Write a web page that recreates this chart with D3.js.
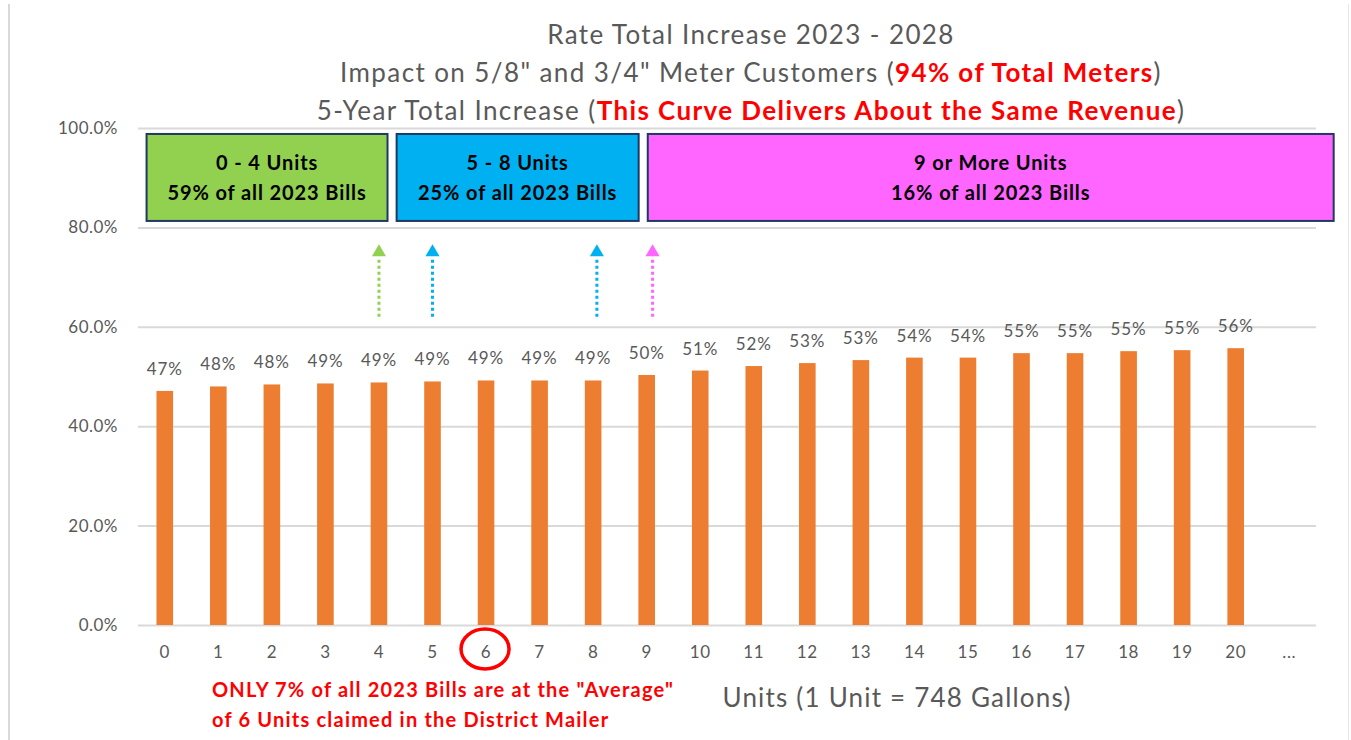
<!DOCTYPE html>
<html lang="en">
<head>
    <meta charset="utf-8">
    <title>Rate Total Increase 2023 - 2028</title>
    <script src="https://d3js.org/d3.v7.min.js"></script>
    <style type="text/css">
        body { margin: 0; background: #fff; }
        text { font-family: Lato, "Open Sans", sans-serif; }
    </style>
</head>
<body>
<script type="text/javascript">

    // data
    var units = ["0", "1", "2", "3", "4", "5", "6", "7", "8", "9", "10",
        "11", "12", "13", "14", "15", "16", "17", "18", "19", "20", "..."];
    var increase = [0.471, 0.480, 0.484, 0.486, 0.488, 0.490, 0.492, 0.492, 0.492, 0.503,
        0.512, 0.521, 0.527, 0.533, 0.538, 0.538, 0.547, 0.547, 0.551, 0.553, 0.557];
    var yTicks = [0, 0.2, 0.4, 0.6, 0.8, 1.0];

    // bands of bills (start unit, end unit, label lines)
    var bandNames = ["0 - 4 Units", "5 - 8 Units", "9 or More Units"];
    var bandShares = ["59% of all 2023 Bills", "25% of all 2023 Bills", "16% of all 2023 Bills"];
    var bandFrom = [-0.34, 4.33, 9.02];
    var bandTo = [4.16, 8.85, 21.83];
    var bandColors = ["#92d050", "#00b0f0", "#ff66ff"];

    // arrows under the boxes (unit position)
    var arrowAt = [4, 5, 8.07, 9.11];
    var arrowColors = ["#92d050", "#00b0f0", "#00b0f0", "#ff66ff"];

    var w = 1351, h = 740;
    var mLeft = 138, mRight = 1316, mTop = 128, mBottom = 625;

    var svg = d3.select("body").append("svg")
        .attr("width", w)
        .attr("height", h);

    // outer frame lines
    svg.append("line").attr("x1", 9).attr("x2", 9).attr("y1", 4).attr("y2", h)
        .attr("stroke", "#d9d9d9").attr("stroke-width", 2);
    svg.append("line").attr("x1", 1348.5).attr("x2", 1348.5).attr("y1", 4).attr("y2", h)
        .attr("stroke", "#e6e6e6").attr("stroke-width", 1);

    var x = d3.scaleBand()
        .domain(units)
        .range([mLeft, mRight])
        .paddingInner(0.69)
        .paddingOuter(0.345);

    var y = d3.scaleLinear()
        .domain([0, 1])
        .range([mBottom, mTop]);

    var step = x.step();
    var uPos = function (u) { return x("0") + x.bandwidth() / 2 + u * step; };

    // gridlines + y labels
    var yAxis = d3.axisLeft(y)
        .tickValues(yTicks)
        .tickSize(-(mRight - mLeft))
        .tickPadding(20)
        .tickFormat(d3.format(".1%"));

    var gy = svg.append("g")
        .attr("transform", "translate(" + mLeft + ",0)")
        .call(yAxis);
    gy.select(".domain").remove();
    gy.selectAll(".tick line").attr("stroke", "#d9d9d9").attr("stroke-width", 2);
    gy.selectAll(".tick text")
        .attr("fill", "#595959")
        .attr("font-size", "17px")
        .attr("letter-spacing", "0.5px")
        .style("font-family", "Lato, sans-serif");

    // x labels
    var xAxis = d3.axisBottom(x).tickSize(0).tickPadding(21);
    var gx = svg.append("g")
        .attr("transform", "translate(0," + mBottom + ")")
        .call(xAxis);
    gx.select(".domain").remove();
    gx.selectAll(".tick text")
        .attr("fill", "#595959")
        .attr("font-size", "17px")
        .attr("letter-spacing", "0.6px")
        .style("font-family", "Lato, sans-serif");

    // bars
    svg.selectAll("rect.bar")
        .data(increase)
        .enter()
        .append("rect")
        .attr("class", "bar")
        .attr("x", function (d, i) { return x(units[i]); })
        .attr("y", function (d) { return y(d); })
        .attr("width", x.bandwidth())
        .attr("height", function (d) { return y(0) - y(d); })
        .attr("fill", "#ed7d31");

    // value labels
    svg.selectAll("text.val")
        .data(increase)
        .enter()
        .append("text")
        .attr("class", "val")
        .attr("x", function (d, i) { return x(units[i]) + x.bandwidth() / 2; })
        .attr("y", function (d) { return y(d) - 16; })
        .attr("text-anchor", "middle")
        .attr("font-size", "17px")
        .attr("letter-spacing", "0.9px")
        .attr("fill", "#595959")
        .text(function (d) { return d3.format(".0%")(d); });

    // title
    var title = svg.append("text")
        .attr("text-anchor", "middle")
        .attr("fill", "#595959")
        .attr("font-size", "26px")
        .attr("letter-spacing", "1.4px");
    title.append("tspan").attr("x", 751).attr("y", 44).text("Rate Total Increase 2023 - 2028");
    var t2 = title.append("tspan").attr("x", 751).attr("y", 82);
    t2.append("tspan").text("Impact on 5/8\" and 3/4\" Meter Customers (");
    t2.append("tspan").attr("fill", "#ff0000").attr("font-weight", "bold").text("94% of Total Meters");
    t2.append("tspan").text(")");
    var t3 = title.append("tspan").attr("x", 751).attr("y", 120);
    t3.append("tspan").text("5-Year Total Increase (");
    t3.append("tspan").attr("fill", "#ff0000").attr("font-weight", "bold").text("This Curve Delivers About the Same Revenue");
    t3.append("tspan").text(")");

    // band boxes
    var boxes = svg.selectAll("g.box")
        .data(bandNames)
        .enter()
        .append("g")
        .attr("class", "box");

    boxes.append("rect")
        .attr("x", function (d, i) { return uPos(bandFrom[i]); })
        .attr("y", y(0.988))
        .attr("width", function (d, i) { return uPos(bandTo[i]) - uPos(bandFrom[i]); })
        .attr("height", y(0.813) - y(0.988))
        .attr("fill", function (d, i) { return bandColors[i]; })
        .attr("stroke", "#1f3864")
        .attr("stroke-width", 2);

    boxes.append("text")
        .attr("x", function (d, i) { return (uPos(bandFrom[i]) + uPos(bandTo[i])) / 2; })
        .attr("y", 170)
        .attr("text-anchor", "middle")
        .attr("font-size", "20px")
        .attr("letter-spacing", "0.9px")
        .attr("font-weight", "bold")
        .attr("fill", "#000")
        .text(function (d) { return d; });

    boxes.append("text")
        .attr("x", function (d, i) { return (uPos(bandFrom[i]) + uPos(bandTo[i])) / 2; })
        .attr("y", 200)
        .attr("text-anchor", "middle")
        .attr("font-size", "20px")
        .attr("letter-spacing", "0.9px")
        .attr("font-weight", "bold")
        .attr("fill", "#000")
        .text(function (d, i) { return bandShares[i]; });

    // dotted arrows
    var arrows = svg.selectAll("g.arrow")
        .data(arrowAt)
        .enter()
        .append("g")
        .attr("class", "arrow")
        .attr("transform", function (d) { return "translate(" + uPos(d) + ",0)"; });

    arrows.append("line")
        .attr("x1", 0).attr("x2", 0)
        .attr("y1", y(0.62)).attr("y2", y(0.735))
        .attr("stroke", function (d, i) { return arrowColors[i]; })
        .attr("stroke-width", 3)
        .attr("stroke-dasharray", "3,3");

    arrows.append("path")
        .attr("d", function () {
            var t = y(0.766), b = y(0.742);
            return "M0," + t + "L7,"+ b + "L-7," + b + "Z";
        })
        .attr("fill", function (d, i) { return arrowColors[i]; });

    // red circle round the "average" unit
    svg.append("ellipse")
        .attr("cx", x("6") + x.bandwidth() / 2 - 1)
        .attr("cy", 649)
        .attr("rx", 24)
        .attr("ry", 20)
        .attr("fill", "none")
        .attr("stroke", "#ff0000")
        .attr("stroke-width", 3.5);

    // red note
    var note = svg.append("text")
        .attr("fill", "#ff0000")
        .attr("font-weight", "bold")
        .attr("font-size", "20px")
        .attr("letter-spacing", "1.2px");
    note.append("tspan").attr("x", 212).attr("y", 697).text("ONLY 7% of all 2023 Bills are at the \"Average\"");
    note.append("tspan").attr("x", 212).attr("y", 727).text("of 6 Units claimed in the District Mailer");

    // x axis title
    svg.append("text")
        .attr("x", 897)
        .attr("y", 707)
        .attr("text-anchor", "middle")
        .attr("fill", "#595959")
        .attr("font-size", "26px")
        .attr("letter-spacing", "1.2px")
        .text("Units (1 Unit = 748 Gallons)");

</script>
</body>
</html>
